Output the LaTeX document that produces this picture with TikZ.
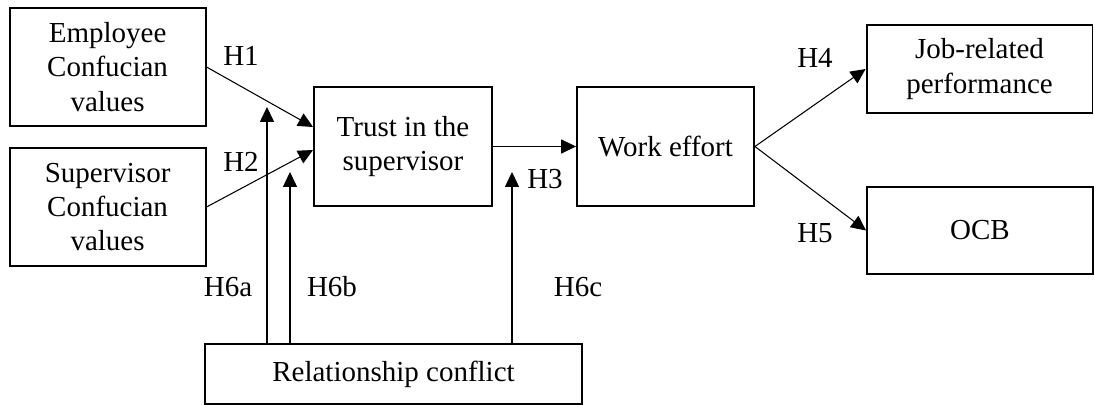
\documentclass[tikz,border=0pt]{standalone}
\usepackage{fontspec}
\setmainfont{Liberation Serif}
\usetikzlibrary{arrows.meta,calc}

\begin{document}
\begin{tikzpicture}[x=0.02cm,y=-0.02cm,
	font=\fontsize{16.5}{19.5}\selectfont,
	box/.style={draw, line width=1.1pt, align=center, inner sep=0pt},
	arr/.style={-{Triangle[length=8.5pt,width=8pt]}, line width=0.6pt},
	hyp/.style={inner sep=0pt}]
	\useasboundingbox (0,0) rectangle (1094,405);
	% constructs
		\node[box, minimum width=3.92cm, minimum height=2.36cm] (emp) at (107.6,67) {Employee\\Confucian\\values};
		\node[box, minimum width=3.92cm, minimum height=2.36cm] (sup) at (107.6,207) {Supervisor\\Confucian\\values};
		\node[box, minimum width=3.56cm, minimum height=2.38cm] (trust) at (403,146.5) {Trust in the\\supervisor};
		\node[box, minimum width=3.54cm, minimum height=2.38cm] (work) at (665.5,146.5) {Work effort};
		\node[box, minimum width=4.52cm, minimum height=1.76cm] (job) at (979.5,69) {Job-related\\performance};
		\node[box, minimum width=4.52cm, minimum height=1.74cm] (ocb) at (980,230.5) {OCB};
		\node[box, minimum width=7.54cm, minimum height=1.2cm] (conflict) at (393.5,374) {Relationship conflict};
	% moderating arrow tips
		\coordinate (h6a) at (267,107);
		\coordinate (h6b) at (290,172);
		\coordinate (h6c) at (512,172);
	% paths
		\draw[arr] (emp.east) -- ($(trust.west)+(0,-19.5)$);
		\draw[arr] (sup.east) -- ($(trust.west)+(0,3.5)$);
		\draw[arr] (trust.east) -- (work.west);
		\draw[arr] (work.east) -- (job.west);
		\draw[arr] (work.east) -- (ocb.west);
		\draw[arr] (conflict.north -| h6a) -- (h6a);
		\draw[arr] (conflict.north -| h6b) -- (h6b);
		\draw[arr] (conflict.north -| h6c) -- (h6c);
	% hypotheses
		\node[hyp] (lH1) at (241,56) {H1};
		\node[hyp] (lH2) at (241,162) {H2};
		\node[hyp] (lH3) at (545,179) {H3};
		\node[hyp] (lH4) at (815,58) {H4};
		\node[hyp] (lH5) at (815,233) {H5};
		\node[hyp] (lH6a) at (228,287) {H6a};
		\node[hyp] (lH6b) at (332,287) {H6b};
		\node[hyp] (lH6c) at (578,287) {H6c};
\end{tikzpicture}
\end{document}
